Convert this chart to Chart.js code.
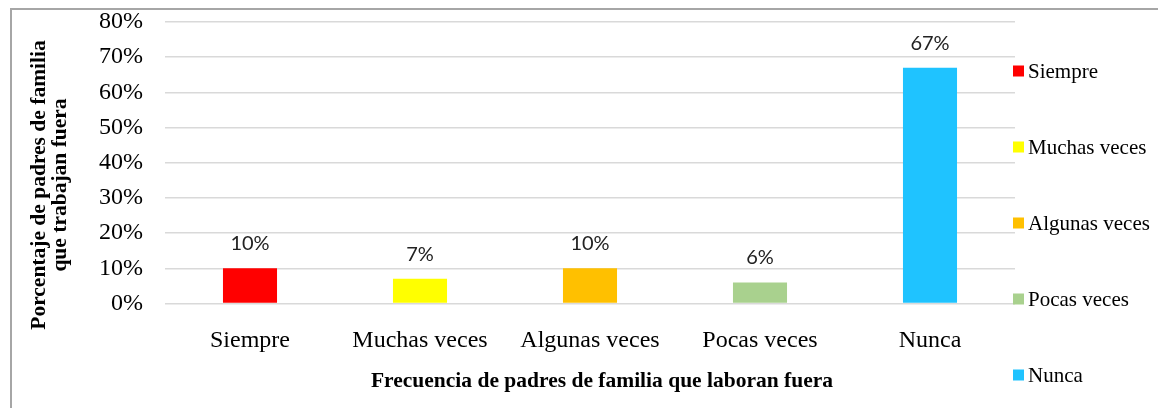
<!DOCTYPE html>
<html>
<head>
<meta charset="utf-8">
<script src="https://cdn.jsdelivr.net/npm/chart.js@4.4.1/dist/chart.umd.min.js"></script>
<style>
html,body{margin:0;padding:0;background:#fff;overflow:hidden;}
#wrap{position:relative;width:1158px;height:408px;}
#frame{position:absolute;left:10px;top:8px;width:1200px;height:500px;border-left:2px solid #a6a6a6;border-top:2px solid #a6a6a6;pointer-events:none;}
canvas{position:absolute;left:0;top:0;}
</style>
</head>
<body>
<div id="wrap"><canvas id="c" width="1158" height="408"></canvas><div id="frame"></div></div>
<script>
// data
const categories=["Siempre","Muchas veces","Algunas veces","Pocas veces","Nunca"];
const values=[0.10,0.07,0.10,0.06,0.67];
const barColors=["#FF0000","#FFFF00","#FFC000","#A9D18E","#1FC3FF"];
const yMax=0.8, yStep=0.1;
const xTitle="Frecuencia de padres de familia que laboran fuera";
const yTitle=["Porcentaje de padres de familia","que trabajan fuera"];

const SERIF='"Liberation Serif","Times New Roman",serif';
const pct=v=>Math.round(v*100)+"%";

// value labels, axis titles and the legend column (Excel-style placement)
const extras={id:"extras",
  afterDatasetsDraw(chart){
    const ctx=chart.ctx;
    ctx.save();
    ctx.font='20px Lato'; ctx.fillStyle='#222'; ctx.textAlign='center'; ctx.textBaseline='alphabetic';
    chart.getDatasetMeta(0).data.forEach((bar,i)=>ctx.fillText(pct(values[i]),bar.x,bar.y-18));
    ctx.fillStyle='#000';
    ctx.font='bold 21.5px '+SERIF;
    ctx.fillText(xTitle,602,387);
    ctx.save();
    ctx.translate(39,185); ctx.rotate(-Math.PI/2);
    ctx.textBaseline='middle';
    ctx.fillText(yTitle[0],0,0);
    ctx.fillText(yTitle[1],0,21);
    ctx.restore();
    // legend
    ctx.font='21px '+SERIF; ctx.textAlign='left'; ctx.textBaseline='middle';
    categories.forEach((c,i)=>{
      const cy=71+i*76;
      ctx.fillStyle=barColors[i]; ctx.fillRect(1013,cy-5.5,11,11);
      ctx.fillStyle='#000'; ctx.fillText(c,1028,cy+1);
    });
    ctx.restore();
  }};

new Chart(document.getElementById("c").getContext("2d"),{
  type:"bar",
  data:{labels:categories,datasets:[{data:values,backgroundColor:barColors,barPercentage:0.318,categoryPercentage:1}]},
  options:{
    animation:false,responsive:false,maintainAspectRatio:false,
    layout:{padding:{top:22,right:143,bottom:0,left:0}},
    plugins:{legend:{display:false},tooltip:{enabled:false}},
    scales:{
      x:{grid:{display:false},border:{display:false},
         ticks:{color:'#000',font:{family:SERIF,size:24},padding:15,maxRotation:0,autoSkip:false},
         afterFit:s=>{s.height=104.5;s.paddingLeft=0;s.paddingRight=0;}},
      y:{min:0,max:yMax,
         grid:{color:'#d9d9d9',lineWidth:1.5,drawTicks:false},border:{display:false},
         ticks:{stepSize:yStep,color:'#000',font:{family:SERIF,size:24},padding:22,callback:v=>pct(v)},
         afterFit:s=>{s.width=165;s.paddingTop=0;s.paddingBottom=0;}}
    }
  },
  plugins:[extras]
});
</script>
</body>
</html>
